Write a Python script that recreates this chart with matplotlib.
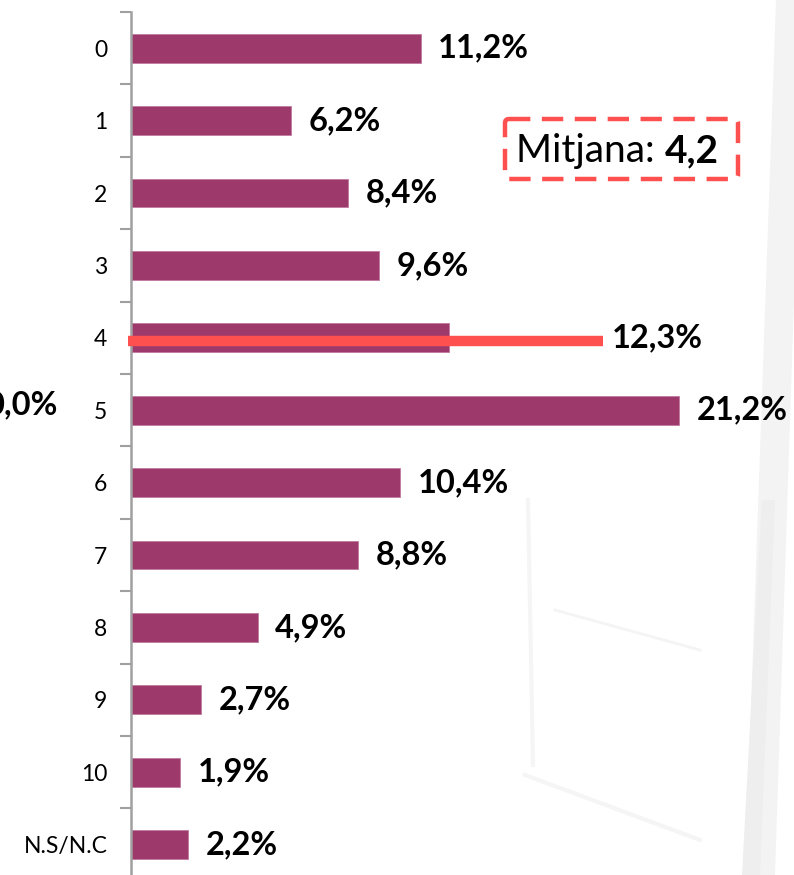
import matplotlib.pyplot as plt
from matplotlib.patches import FancyBboxPatch, Polygon
import numpy as np

plt.rcParams['font.family'] = ['Lato', 'DejaVu Sans']

categories = ['0', '1', '2', '3', '4', '5', '6', '7', '8', '9', '10', 'N.S/N.C']
values = [11.2, 6.2, 8.4, 9.6, 12.3, 21.2, 10.4, 8.8, 4.9, 2.7, 1.9, 2.2]
mean_value = 4.2
mean_text = '4,2'
left_label = '0,0%'

bar_color = '#9e3a6b'
red = '#ff5050'

W, H = 794, 875
fig = plt.figure(figsize=(W / 100, H / 100), dpi=100)
fig.patch.set_facecolor('#ffffff')

# faint photo-like background shapes
bg = fig.add_axes([0, 0, 1, 1])
bg.set_xlim(0, W)
bg.set_ylim(H, 0)
bg.axis('off')
bg.add_patch(Polygon([[776, 0], [794, 0], [794, 300], [775, 875], [745, 875]],
                     closed=True, color='#f3f3f3', lw=0))
bg.add_patch(Polygon([[762, 500], [775, 500], [760, 875], [742, 875]],
                     closed=True, color='#eeeeee', lw=0))
bg.plot([555, 700], [610, 650], color='#f4f4f4', lw=2)
bg.plot([525, 700], [775, 840], color='#f5f5f5', lw=3)
bg.plot([528, 533], [500, 765], color='#f5f5f5', lw=3)

# main axes: 12 rows of 72.4 px, top at y=12
row = 72.4
top = 12
height = row * len(categories)
ax = fig.add_axes([131 / W, 1 - (top + height) / H, (W - 131) / W, height / H])
ax.patch.set_alpha(0)

y = np.arange(len(categories))
ax.barh(y, values, height=0.4, color=bar_color, edgecolor='#c27a9e', linewidth=0.6, zorder=2)
ax.set_ylim(len(categories) - 0.5, -0.5)
ax.set_xlim(0, (W - 131) / 25.85)

for yi, v in zip(y, values):
    lab = f'{v:.1f}'.replace('.', ',') + '%'
    xpos = v + 0.68
    if categories[yi] == '4':
        xpos = 18.6
    ax.text(xpos, yi, lab, va='center', ha='left', fontsize=23.5,
            fontweight='bold', color='black', zorder=4)

# mean line drawn at category 4
ax.plot([-0.12, 18.27], [4.05, 4.05], color=red, lw=7.5, solid_capstyle='butt',
        zorder=3, clip_on=False)

ax.set_yticks(y)
ax.set_yticklabels(categories, fontsize=16.5)
ax.set_yticks(np.arange(-0.5, len(categories), 1), minor=True)
ax.tick_params(axis='y', which='major', length=0, pad=17)
ax.tick_params(axis='y', which='minor', length=8, width=1.5, color='#a0a0a0')
ax.set_xticks([])
for s in ['top', 'right', 'bottom']:
    ax.spines[s].set_visible(False)
ax.spines['left'].set_color('#a0a0a0')
ax.spines['left'].set_linewidth(1.8)

# cut-off label on the left
fig.text(57 / W, 1 - 405 / H, left_label, ha='right', va='center',
         fontsize=23.5, fontweight='bold')

# mean box
box = FancyBboxPatch((505, 119), 233, 60, boxstyle='round,pad=0,rounding_size=4',
                     transform=bg.transData, fill=False, edgecolor=red, lw=3.2,
                     linestyle=(0, (4.8, 2.6)))
bg.add_patch(box)
t1 = bg.text(516, 151, 'Mitjana: ', ha='left', va='center', fontsize=28)
fig.canvas.draw()
bb = t1.get_window_extent()
t2 = bg.text(0, 0, mean_text, ha='left', va='center', fontsize=28, fontweight='bold',
             transform=None)
t2.set_position((bb.x1, H - 151))

fig.savefig('out.png', dpi=100, facecolor=fig.get_facecolor())
